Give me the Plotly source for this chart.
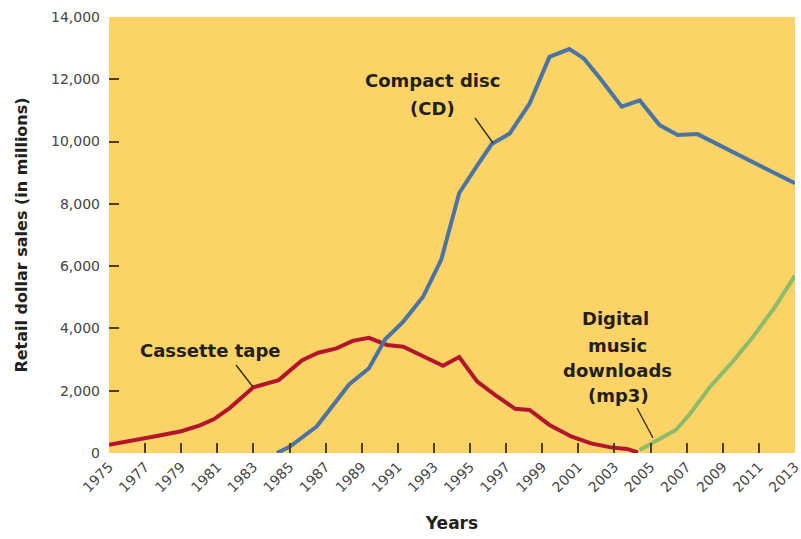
import plotly.graph_objects as go

# ---- data ----
cassette_years = [1975.0, 1976.5, 1977.8, 1979.0, 1980.0, 1980.8, 1981.7, 1983.0, 1984.4,
                  1985.7, 1986.6, 1987.6, 1988.5, 1989.4, 1990.4, 1991.3, 1992.4, 1993.5,
                  1994.4, 1995.4, 1996.4, 1997.5, 1998.3, 1999.4, 2000.6, 2001.7, 2002.8,
                  2003.7, 2004.3]
cassette_sales = [260, 410, 560, 700, 880, 1080, 1450, 2110, 2340,
                  2980, 3220, 3360, 3600, 3700, 3470, 3410, 3100, 2800,
                  3080, 2290, 1860, 1420, 1380, 900, 530, 310, 180,
                  130, 20]

cd_years = [1984.3, 1985.0, 1986.5, 1987.6, 1988.3, 1989.4, 1990.3, 1991.3, 1992.4,
            1993.4, 1994.4, 1995.3, 1996.2, 1997.2, 1998.3, 1999.4, 2000.5, 2001.3,
            2002.2, 2003.4, 2004.4, 2005.5, 2006.5, 2007.6, 2013.0]
cd_sales = [0, 200, 850, 1700, 2200, 2720, 3650, 4220, 5020,
            6200, 8350, 9150, 9920, 10260, 11220, 12720, 12970, 12670,
            12030, 11120, 11320, 10530, 10210, 10240, 8660]

mp3_years = [2004.4, 2005.2, 2006.4, 2007.2, 2008.3, 2009.5, 2010.7, 2011.9, 2013.0]
mp3_sales = [100, 360, 740, 1270, 2130, 2900, 3750, 4700, 5700]

tick_years = list(range(1975, 2014, 2))
tick_labels = [str(y) for y in tick_years]
y_ticks = [0, 2000, 4000, 6000, 8000, 10000, 12000, 14000]
y_tick_labels = ["0", "2,000", "4,000", "6,000", "8,000", "10,000", "12,000", "14,000"]

FONT = "DejaVu Sans"
TEXT = "#231f20"

fig = go.Figure()
fig.add_trace(go.Scatter(x=cassette_years, y=cassette_sales, mode="lines",
                         line=dict(color="#b3162c", width=4), hoverinfo="skip"))
fig.add_trace(go.Scatter(x=cd_years, y=cd_sales, mode="lines",
                         line=dict(color="#4a74a4", width=4), hoverinfo="skip"))
fig.add_trace(go.Scatter(x=mp3_years, y=mp3_sales, mode="lines",
                         line=dict(color="#8cbb6a", width=4), hoverinfo="skip"))

# helper to convert picture positions of labels into data coordinates
L, R, T, B = 109, 795, 17, 453
def px2x(px):
    return 1975 + (px - L) * 38 / (R - L)
def py2y(py):
    return (B - py) * 14000 / (B - T)

labels = [
    ("Compact disc", 432, 80), ("(CD)", 432, 108),
    ("Cassette tape", 210, 350),
    ("Digital", 616, 318), ("music", 618, 345), ("downloads", 618, 370), ("(mp3)", 619, 395),
]
for txt, px, py in labels:
    fig.add_annotation(x=px2x(px), y=py2y(py), text=txt, showarrow=False,
                       xref="x", yref="y", xanchor="center", yanchor="middle",
                       font=dict(family=FONT, size=18, color=TEXT, weight="bold"))

leaders = [((475, 118), (493, 143)), ((236, 365), (253, 387)), ((637, 408), (653, 438))]
for (x0, y0), (x1, y1) in leaders:
    fig.add_shape(type="line", xref="x", yref="y",
                  x0=px2x(x0), y0=py2y(y0), x1=px2x(x1), y1=py2y(y1),
                  line=dict(color="#2a2a1a", width=1.3))

fig.update_layout(
    width=801, height=539,
    margin=dict(l=L, r=801 - R, t=T, b=539 - B),
    paper_bgcolor="white", plot_bgcolor="#fbd366",
    showlegend=False,
    font=dict(family=FONT, color="#444"),
)
fig.update_xaxes(range=[1974.999, 2013.001], tickmode="array", tickvals=tick_years, ticktext=tick_labels,
                 tickangle=-45, ticks="inside", ticklen=10, tickwidth=1.5, tickcolor="#4a3f20",
                 showgrid=False, zeroline=False, showline=False, ticklabelstandoff=2,
                 ticklabeloverflow="allow", automargin=False,
                 tickfont=dict(family=FONT, size=14, color="#444"),
                 title=dict(text="Years", font=dict(family=FONT, size=17, color=TEXT, weight="bold"),
                            standoff=22))
fig.update_yaxes(range=[0, 14000], tickmode="array", tickvals=y_ticks, ticktext=y_tick_labels,
                 ticks="inside", ticklen=10, tickwidth=1.5, tickcolor="#4a3f20",
                 showgrid=False, zeroline=False, showline=False, ticklabelstandoff=8,
                 automargin=False,
                 tickfont=dict(family=FONT, size=14, color="#444"),
                 title=dict(text="Retail dollar sales (in millions)",
                            font=dict(family=FONT, size=16, color=TEXT, weight="bold"),
                            standoff=19))

fig.write_html("out.html")
